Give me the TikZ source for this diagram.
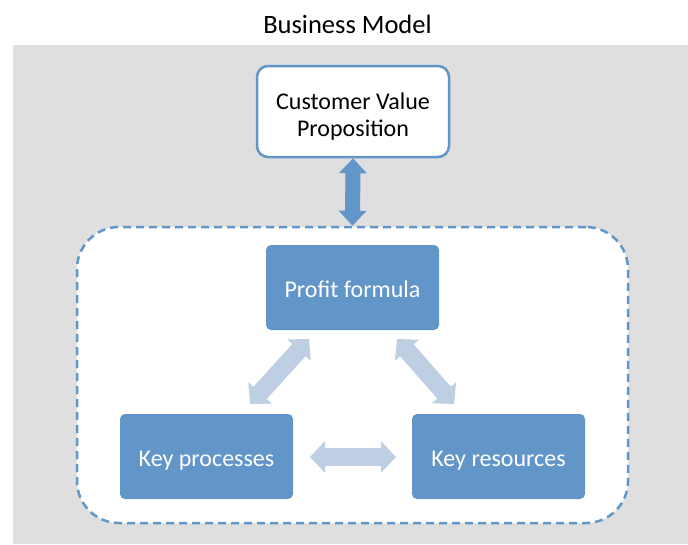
\documentclass[tikz,border=0pt]{standalone}
\usepackage{fontspec}
\setmainfont{Carlito}
\usetikzlibrary{arrows.meta}
\definecolor{bmblue}{RGB}{98,150,201}
\definecolor{bmlight}{RGB}{190,206,227}
\definecolor{bmgrey}{RGB}{223,223,223}
\tikzset{
  bluebox/.style={draw=none, fill=bmblue, rounded corners=5pt, minimum width=173pt, minimum height=85pt, inner sep=0pt, text=white, text height=19pt, text depth=0pt, font=\fontsize{24}{28}\selectfont},
  cvpbox/.style={draw=bmblue, line width=2.5pt, fill=white, rounded corners=11pt, minimum width=192pt, minimum height=91pt, inner sep=0pt, align=center, text height=49pt, text depth=0pt, font=\fontsize{24}{27}\selectfont},
  lightarrow/.style={draw=bmlight, line width=18pt, {Triangle[length=15pt,width=31pt]}-{Triangle[length=15pt,width=31pt]}},
  darkarrow/.style={draw=bmblue, line width=15pt, {Triangle[length=15pt,width=27pt]}-{Triangle[length=15pt,width=27pt]}},
  titletext/.style={font=\fontsize{26.5}{30}\selectfont, inner sep=0pt}
}
\begin{document}
\begin{tikzpicture}[x=1pt,y=-1pt]
\useasboundingbox (0,0) rectangle (688,544);
\fill[bmgrey] (13,45) rectangle (688,544);
\node[titletext] (title) at (347.5,24) {Business Model};
\node[draw=bmblue, line width=2.5pt, dash pattern=on 8pt off 5pt, fill=white, rounded corners=42pt, minimum width=551pt, minimum height=296pt, inner sep=0pt] (group) at (352.5,375) {};
\node[cvpbox] (cvp) at (353,111.5) {Customer Value\\Proposition};
\node[bluebox] (profit) at (352.5,287.5) {Profit formula};
\node[bluebox] (proc) at (206.5,456.5) {Key processes};
\node[bluebox] (res) at (498.5,456.5) {Key resources};
\draw[darkarrow] (cvp.south) -- (group.north);
\coordinate (lpA) at (309,339);
\coordinate (lpB) at (250,404);
\coordinate (rpA) at (397,339);
\coordinate (rpB) at (454,404);
\coordinate (hA) at (310,457);
\coordinate (hB) at (396,457);
\draw[lightarrow] (lpA) -- (lpB);
\draw[lightarrow] (rpA) -- (rpB);
\draw[lightarrow] (hA) -- (hB);
\end{tikzpicture}
\end{document}
